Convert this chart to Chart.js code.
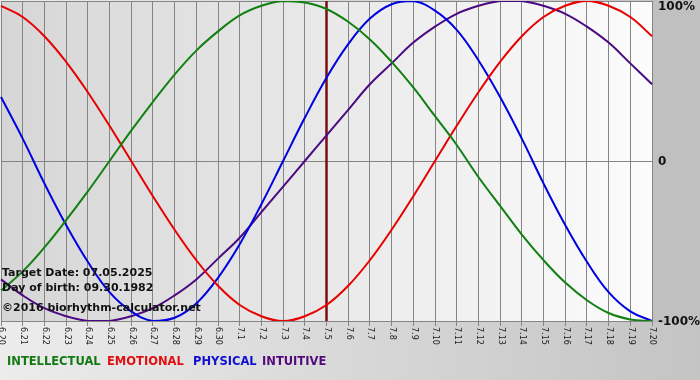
<!DOCTYPE html>
<html>
<head>
<meta charset="utf-8">
<script src="https://cdn.jsdelivr.net/npm/chart.js@4.4.1/dist/chart.umd.min.js"></script>
<style>
html,body{margin:0;padding:0;background:#d8d8d8;}
#wrap{width:700px;height:380px;position:relative;}
</style>
</head>
<body>
<div id="wrap"><canvas id="c" width="700" height="380"></canvas></div>
<script>
const dayLabels = ["6.20","6.21","6.22","6.23","6.24","6.25","6.26","6.27","6.28","6.29","6.30",
  "7.1","7.2","7.3","7.4","7.5","7.6","7.7","7.8","7.9","7.10","7.11","7.12","7.13","7.14","7.15","7.16","7.17","7.18","7.19","7.20"];

const intellectual = [-81,-69,-54,-37,-19,0,19,37,54,69,81,91,97,100,99,95,87,76,62,46,28,10,-10,-28,-46,-62,-76,-87,-95,-99,-100];
const emotional    = [97,90,78,62,43,22,0,-22,-43,-62,-78,-90,-97,-100,-97,-90,-78,-62,-43,-22,0,22,43,62,78,90,97,100,97,90,78];
const physical     = [40,14,-14,-40,-63,-82,-94,-100,-98,-89,-73,-52,-27,0,27,52,73,89,98,100,94,82,63,40,14,-14,-40,-63,-82,-94,-100];
const intuitive    = [-74,-84,-92,-97,-100,-100,-97,-92,-84,-74,-61,-48,-32,-16,0,16,32,48,61,74,84,92,97,100,100,97,92,84,74,61,48];

const yTicks = [100, 0, -100];
const yTickText = ["100%", "0", "-100%"];
const targetLabel = "7.5";
const infoLines = ["Target Date: 07.05.2025", "Day of birth: 09.30.1982", "\u00a92016 biorhythm-calculator.net"];
const seriesNames = ["INTELLECTUAL", "EMOTIONAL", "PHYSICAL", "INTUITIVE"];

const lineColors = ["#118011", "#e80000", "#0000e0", "#4c0a82"];
const legendColors = ["#137a13", "#e01010", "#1010d0", "#540a7c"];

const bgPlugin = {
  id: 'bg',
  beforeDraw(chart) {
    const ctx = chart.ctx, a = chart.chartArea;
    ctx.save();
    let g = ctx.createLinearGradient(0, 0, 700, 0);
    g.addColorStop(0, '#ececec');
    g.addColorStop(1, '#c4c4c4');
    ctx.fillStyle = g;
    ctx.fillRect(0, 0, chart.width, chart.height);
    ctx.fillStyle = '#c0c0c0';
    ctx.fillRect(a.right, 0, chart.width - a.right, a.bottom + 2);
    g = ctx.createLinearGradient(a.left, 0, a.right, 0);
    g.addColorStop(0, '#d6d6d6');
    g.addColorStop(1, '#fcfcfc');
    ctx.fillStyle = g;
    ctx.fillRect(a.left, a.top, a.right - a.left, a.bottom - a.top);
    ctx.restore();
  },
  beforeDatasetsDraw(chart) {
    const ctx = chart.ctx, a = chart.chartArea, xs = chart.scales.x;
    const x = xs.getPixelForValue(dayLabels.indexOf(targetLabel));
    ctx.save();
    ctx.strokeStyle = '#7a0e0e';
    ctx.lineWidth = 2.5;
    ctx.beginPath();
    ctx.moveTo(x, a.top);
    ctx.lineTo(x, a.bottom);
    ctx.stroke();
    ctx.restore();
  },
  afterDraw(chart) {
    const ctx = chart.ctx, a = chart.chartArea, xs = chart.scales.x, ys = chart.scales.y;
    ctx.save();
    ctx.fillStyle = '#1a1a1a';
    ctx.font = '8px "DejaVu Sans"';
    ctx.textAlign = 'left';
    ctx.textBaseline = 'middle';
    dayLabels.forEach((l, i) => {
      const x = xs.getPixelForValue(i);
      ctx.save();
      ctx.translate(x + 0.5, a.bottom + 6);
      ctx.rotate(Math.PI / 2);
      ctx.fillText(l, 0, 0);
      ctx.restore();
    });
    ctx.fillStyle = '#111';
    ctx.font = 'bold 12px "DejaVu Sans"';
    yTicks.forEach((v, i) => {
      const y = Math.max(ys.getPixelForValue(v) + 1, 7);
      ctx.fillText(yTickText[i], a.right + 6, y);
    });
    ctx.font = 'bold 11px "DejaVu Sans"';
    ctx.textBaseline = 'alphabetic';
    ctx.fillStyle = '#111';
    const infoY = [276, 291, 311];
    infoLines.forEach((t, i) => ctx.fillText(t, 2, infoY[i]));
    ctx.font = 'bold 11.5px "DejaVu Sans"';
    const lx = [7, 107, 193, 262];
    seriesNames.forEach((t, i) => {
      ctx.fillStyle = legendColors[i];
      ctx.fillText(t, lx[i], 365);
    });
    ctx.restore();
  }
};

const series = [intellectual, emotional, physical, intuitive];
new Chart(document.getElementById('c'), {
  type: 'line',
  data: {
    labels: dayLabels,
    datasets: series.map((d, i) => ({
      label: seriesNames[i],
      data: d,
      borderColor: lineColors[i],
      borderWidth: 2,
      pointRadius: 0,
      fill: false,
      tension: 0.4
    }))
  },
  options: {
    responsive: false,
    animation: false,
    events: [],
    layout: { padding: { left: 1, top: 1, right: 0, bottom: 0 } },
    plugins: { legend: { display: false }, tooltip: { enabled: false } },
    scales: {
      x: {
        offset: false,
        afterFit(s) { s.height = 59; },
        grid: { color: '#858585', lineWidth: 1, drawTicks: true, tickLength: 5 },
        border: { color: '#858585' },
        ticks: { display: false, autoSkip: false }
      },
      y: {
        position: 'right',
        min: -100, max: 100,
        afterFit(s) { s.width = 48; },
        afterBuildTicks(s) { s.ticks = yTicks.map(v => ({ value: v })); },
        grid: { color: '#858585', lineWidth: 1, drawTicks: false },
        border: { color: '#858585' },
        ticks: { display: false }
      }
    }
  },
  plugins: [bgPlugin]
});
</script>
</body>
</html>
